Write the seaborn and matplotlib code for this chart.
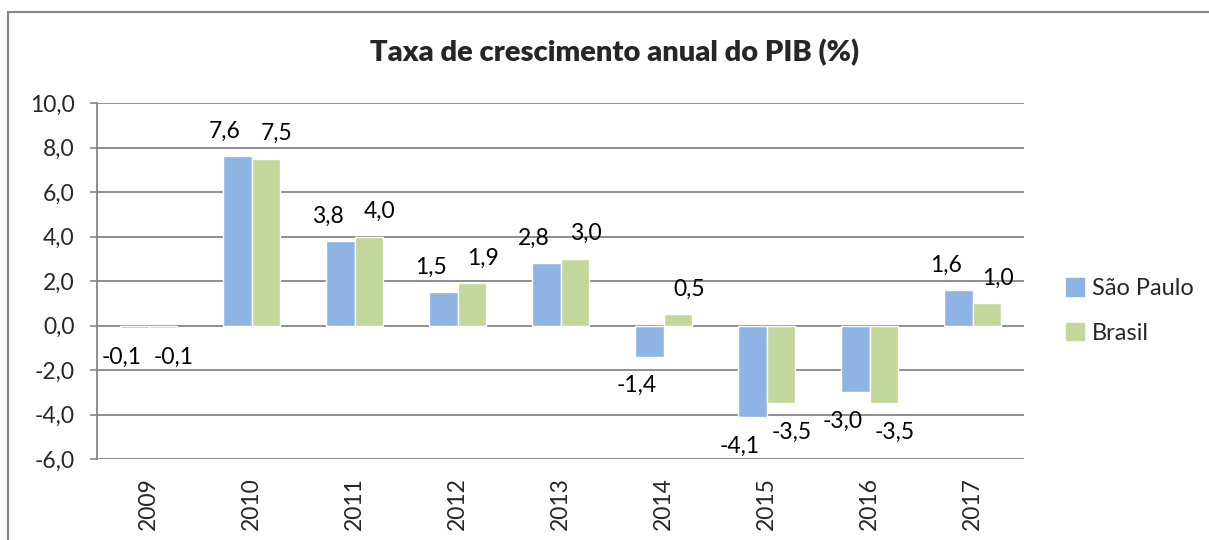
import matplotlib
matplotlib.use('agg')
import matplotlib.pyplot as plt
import matplotlib.patches as mpatches
import pandas as pd
import seaborn as sns

years = ["2009", "2010", "2011", "2012", "2013", "2014", "2015", "2016", "2017"]
sao_paulo = [-0.1, 7.6, 3.8, 1.5, 2.8, -1.4, -4.1, -3.0, 1.6]
brasil = [-0.1, 7.5, 4.0, 1.9, 3.0, 0.5, -3.5, -3.5, 1.0]
series = ["São Paulo", "Brasil"]
colors = ["#8EB4E3", "#C3D69B"]
yticks = [-6, -4, -2, 0, 2, 4, 6, 8, 10]

df = pd.DataFrame({"ano": years * 2,
                   "valor": sao_paulo + brasil,
                   "serie": [series[0]] * len(years) + [series[1]] * len(years)})

sns.set_style("white")
plt.rcParams['font.family'] = ['Lato', 'DejaVu Sans']

fig = plt.figure(figsize=(12.09, 5.4), dpi=100)
ax = fig.add_axes([97 / 1209, 81 / 540, (1024 - 97) / 1209, (459 - 103) / 540])

sns.barplot(data=df, x="ano", y="valor", hue="serie", palette=colors,
            width=0.56, gap=0, saturation=1, ax=ax, zorder=3)

fmt = lambda v: f"{v:.1f}".replace(".", ",")
# labels spread sideways a bit like the spreadsheet does
shifts = [-9, 8]
for cont, dx in zip(ax.containers, shifts):
    for b in cont:
        h = b.get_height()
        x = b.get_x() + b.get_width() / 2
        dy = 18 if h >= 0 else -21
        ax.annotate(fmt(h), (x, h), xytext=(dx, dy), textcoords="offset points",
                    ha="center", va="center", fontsize=16.5, color="#000000")

ax.set_ylim(-6, 10)
ax.set_yticks(yticks)
ax.set_yticklabels([fmt(t) for t in yticks], fontsize=16.5)
ax.set_xlim(-0.5, len(years) - 0.5)
ax.set_xticks(range(len(years)))
ax.set_xticklabels(years, rotation=90, fontsize=16.5)
ax.tick_params(axis="y", length=5, color="#868686", width=1.2, pad=11, direction="out", left=True)
ax.tick_params(axis="x", length=0, pad=13)
ax.set_xlabel("")
ax.set_ylabel("")

ax.yaxis.grid(True, color="#868686", linewidth=1.3, zorder=0)
ax.set_axisbelow(True)
for s in ["top", "right", "bottom"]:
    ax.spines[s].set_visible(False)
ax.spines["left"].set_color("#868686")
ax.spines["left"].set_linewidth(1.3)

fig.text(615 / 1209, 1 - 53 / 540, "Taxa de crescimento anual do PIB (%)", fontsize=21,
         fontweight="heavy", ha="center", va="center")

handles = [mpatches.Patch(color=c, label=s) for c, s in zip(colors, series)]
ax.get_legend().remove()
fig.legend(handles=handles, loc="center left", bbox_to_anchor=(1066 / 1209, 1 - 311 / 540),
           frameon=False, fontsize=17, handlelength=0.75, handleheight=0.75,
           handletextpad=0.35, labelspacing=1.0, borderpad=0, borderaxespad=0)

border = mpatches.Rectangle((8 / 1209, -0.2), 1.1, 1.2 - 12 / 540, transform=fig.transFigure,
                            fill=False, edgecolor="#868686", linewidth=1.5)
fig.patches.append(border)

fig.savefig("out.png", dpi=100)
plt.close()
